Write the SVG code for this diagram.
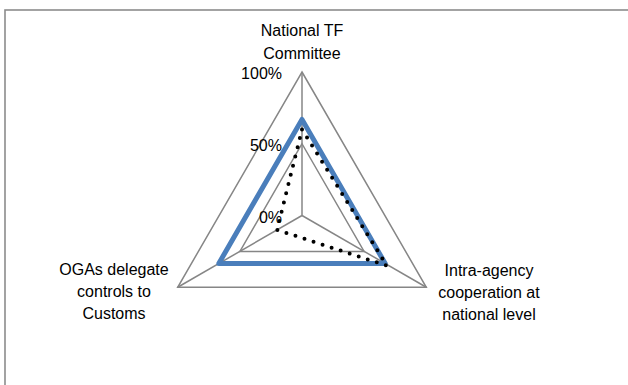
<svg xmlns="http://www.w3.org/2000/svg" width="628" height="385" viewBox="0 0 628 385">
<style>
.t{font-family:"Liberation Sans",Arial,sans-serif;font-size:16px;fill:#000}
.m{text-anchor:middle}
.e{text-anchor:end}
.g{fill:none;stroke:#868686;stroke-width:1.5}
</style>
<rect x="0" y="0" width="628" height="385" fill="#fff"/>
<rect id="frame" x="5" y="10" width="640" height="400" fill="none" stroke="#8c8c8c" stroke-width="1.6"/>
<g id="grid">
<polygon class="g" points="302,72 426.3,287.25 177.7,287.25"/>
<polygon class="g" points="302,143.75 364.1,251.4 239.9,251.4"/>
</g>
<g id="axes">
<line class="g" x1="302" y1="215.5" x2="302" y2="72" stroke-width="2"/>
<line class="g" x1="302" y1="215.5" x2="426.3" y2="287.25"/>
<line class="g" x1="302" y1="215.5" x2="177.7" y2="287.25"/>
</g>
<g id="series">
<polygon points="302,119.4 385.2,263.5 218.8,263.5" fill="none" stroke="#4A7EBB" stroke-width="5" stroke-linejoin="round"/>
<polygon points="302,129.4 386.8,265.6 277.1,229.9" fill="none" stroke="#000" stroke-width="4" stroke-linecap="round" stroke-dasharray="0 9.5"/>
</g>
<g id="ticks">
<text class="t e" x="282" y="79">100%</text>
<text class="t e" x="282" y="151">50%</text>
<text class="t e" x="282" y="222.5">0%</text>
</g>
<g id="node-top">
<text class="t m" x="302" y="36">National TF</text>
<text class="t m" x="302" y="59">Committee</text>
</g>
<g id="node-left">
<text class="t m" x="114" y="275">OGAs delegate</text>
<text class="t m" x="114" y="297">controls to</text>
<text class="t m" x="114" y="319">Customs</text>
</g>
<g id="node-right">
<text class="t m" x="489" y="275.5">Intra-agency</text>
<text class="t m" x="489" y="298">cooperation at</text>
<text class="t m" x="489" y="320">national level</text>
</g>
</svg>
